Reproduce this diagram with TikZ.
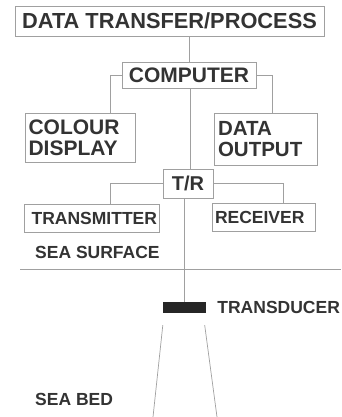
\documentclass[tikz,border=0pt]{standalone}
\usepackage{fontspec}
\setmainfont{Liberation Sans}
\usetikzlibrary{calc,positioning}
\definecolor{inkgray}{HTML}{333333}
\definecolor{linegray}{HTML}{A0A0A0}

\begin{document}
\begin{tikzpicture}[
		x=1pt, y=-1pt,
		font=\bfseries, text=inkgray,
		box/.style={draw=linegray, line width=0.8pt, inner sep=0pt},
		big/.style={font=\fontsize{21}{21}\selectfont\bfseries},
		small/.style={font=\fontsize{17.5}{18}\selectfont\bfseries},
		label/.style={small, anchor=west, inner sep=0pt},
		wire/.style={draw=linegray, line width=0.7pt},
	]

	% frame of the picture
	\useasboundingbox (0,0) rectangle (341,417);

	% boxes
	\node[box, big, minimum width=309pt, minimum height=30pt,
		font=\fontsize{21.8}{22}\selectfont\bfseries] (process) at (169.5, 21)
	{DATA TRANSFER/PROCESS};

	\node[box, big, minimum width=134pt, minimum height=26pt] (computer) at (189, 75)
	{COMPUTER};

	\node[box, big, minimum width=110pt, minimum height=49pt,
		text width=103pt, align=left, font=\fontsize{21}{21}\selectfont\bfseries]
		(colour) at (80, 137.5) {COLOUR\\DISPLAY};

	\node[box, big, minimum width=103pt, minimum height=52pt,
		text width=95pt, align=left, font=\fontsize{20.5}{21}\selectfont\bfseries]
		(output) at (265.5, 139) {DATA\\OUTPUT};

	\node[box, big, minimum width=50pt, minimum height=29pt,
		font=\fontsize{20}{20}\selectfont\bfseries] (tr) at (188, 183.5) {T/R};

	\node[box, small, minimum width=135pt, minimum height=28pt,
		text width=131pt, align=right] (transmitter) at (91.5, 218) {TRANSMITTER};

	\node[box, small, minimum width=103pt, minimum height=28pt,
		text width=97pt, align=left] (receiver) at (263.5, 217) {RECEIVER};

	\node[fill=black!85, minimum width=43pt, minimum height=11pt, inner sep=0pt]
		(transducer) at (184.5, 307.5) {};

	% plain labels
	\node[label] (surface) at (35, 252) {SEA SURFACE};
	\node[label] (bed) at (35, 399) {SEA BED};
	\node[label, right=11pt of transducer] (translabel) {TRANSDUCER};

	% connectors
	\draw[wire] (computer.north) -- (computer.north |- process.south);
	\draw[wire] (computer.west) -| ([xshift=30pt]colour.north);
	\draw[wire] (computer.east) -| ([xshift=6.5pt]output.north);
	\draw[wire] ([xshift=1pt]computer.south) -- ([xshift=1pt]computer.south |- tr.north);
	\draw[wire] (tr.west) -| ([xshift=18.5pt]transmitter.north);
	\draw[wire] (tr.east) -| ([xshift=19.5pt]receiver.north);
	\draw[wire] (transducer.north |- tr.south) -- (transducer.north);

	% sea surface
	\draw[wire] (20, 269) -- (341, 269);

	% sound beam
	\draw[wire] ([yshift=-12pt]transducer.south west) -- (153, 417);
	\draw[wire] ([xshift=-1.5pt, yshift=-12pt]transducer.south east) -- (217, 417);

\end{tikzpicture}
\end{document}
